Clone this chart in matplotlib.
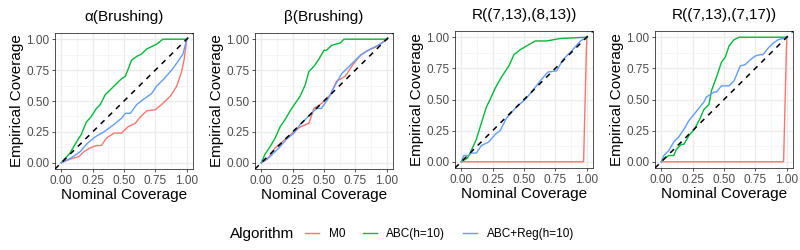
import numpy as np
import matplotlib.pyplot as plt
from matplotlib.lines import Line2D
from matplotlib.ticker import MultipleLocator

plt.rcParams['font.family'] = ['Liberation Sans', 'DejaVu Sans']

# ---- данные ----
titles = ['\u03b1(Brushing)', '\u03b2(Brushing)', 'R((7,13),(8,13))', 'R((7,13),(7,17))']
algos = ['M0', 'ABC(h=10)', 'ABC+Reg(h=10)']
colors = ['#F8766D', '#00BA38', '#619CFF']

# панель 1: alpha
a_m0_x = [0, 0.07, 0.14, 0.18, 0.23, 0.28, 0.32, 0.36, 0.42, 0.48, 0.53, 0.59, 0.63, 0.68, 0.75, 0.81, 0.87, 0.92, 0.96, 0.98, 1.0]
a_m0_y = [0, 0.03, 0.05, 0.09, 0.12, 0.14, 0.14, 0.20, 0.24, 0.24, 0.29, 0.32, 0.37, 0.42, 0.43, 0.48, 0.54, 0.62, 0.74, 0.84, 1.0]
a_abc_x = [0, 0.07, 0.14, 0.16, 0.20, 0.24, 0.28, 0.31, 0.35, 0.42, 0.48, 0.51, 0.53, 0.56, 0.60, 0.64, 0.68, 0.76, 0.81, 1.0]
a_abc_y = [0, 0.08, 0.20, 0.23, 0.33, 0.375, 0.44, 0.47, 0.55, 0.62, 0.68, 0.70, 0.75, 0.83, 0.86, 0.88, 0.92, 0.96, 1.0, 1.0]
a_reg_x = [0, 0.08, 0.15, 0.20, 0.27, 0.34, 0.42, 0.48, 0.51, 0.55, 0.60, 0.65, 0.72, 0.76, 0.81, 0.88, 0.93, 0.97, 1.0]
a_reg_y = [0, 0.04, 0.09, 0.15, 0.21, 0.25, 0.31, 0.36, 0.40, 0.40, 0.47, 0.51, 0.56, 0.62, 0.67, 0.75, 0.82, 0.88, 1.0]

# панель 2: beta
b_m0_x = [0, 0.05, 0.11, 0.19, 0.26, 0.31, 0.38, 0.42, 0.48, 0.55, 0.60, 0.67, 0.72, 0.79, 0.85, 0.92, 1.0]
b_m0_y = [0, 0.03, 0.12, 0.19, 0.25, 0.29, 0.32, 0.44, 0.48, 0.55, 0.66, 0.70, 0.78, 0.87, 0.91, 0.94, 1.0]
b_abc_x = [0, 0.03, 0.07, 0.11, 0.15, 0.19, 0.23, 0.27, 0.31, 0.35, 0.38, 0.42, 0.46, 0.50, 0.52, 0.56, 0.63, 0.66, 1.0]
b_abc_y = [0, 0.07, 0.13, 0.20, 0.29, 0.35, 0.42, 0.48, 0.54, 0.63, 0.74, 0.78, 0.84, 0.91, 0.91, 0.95, 0.97, 1.0, 1.0]
b_reg_x = [0, 0.07, 0.14, 0.20, 0.26, 0.31, 0.39, 0.44, 0.48, 0.54, 0.59, 0.64, 0.71, 0.79, 0.87, 0.95, 1.0]
b_reg_y = [0, 0.05, 0.12, 0.19, 0.24, 0.31, 0.39, 0.44, 0.44, 0.53, 0.63, 0.72, 0.79, 0.87, 0.92, 0.96, 1.0]

# панель 3: R((7,13),(8,13))
r1_m0_x = [0, 0.975, 1.0]
r1_m0_y = [0, 0, 1.0]
r1_abc_x = [0, 0.05, 0.08, 0.12, 0.16, 0.20, 0.23, 0.27, 0.32, 0.38, 0.42, 0.47, 0.52, 0.59, 0.68, 0.79, 1.0]
r1_abc_y = [0, 0.03, 0.09, 0.18, 0.31, 0.44, 0.50, 0.59, 0.68, 0.77, 0.86, 0.90, 0.93, 0.97, 0.97, 0.99, 1.0]
r1_reg_x = [0, 0.02, 0.06, 0.08, 0.12, 0.16, 0.22, 0.27, 0.31, 0.36, 0.44, 0.51, 0.56, 0.63, 0.69, 0.76, 0.81, 0.88, 0.95, 1.0]
r1_reg_y = [0, 0.05, 0.05, 0.07, 0.07, 0.13, 0.16, 0.22, 0.25, 0.35, 0.44, 0.50, 0.56, 0.65, 0.72, 0.73, 0.82, 0.89, 0.97, 1.0]

# панель 4: R((7,13),(7,17))
r2_m0_x = [0, 0.975, 1.0]
r2_m0_y = [0, 0, 1.0]
r2_abc_x = [0, 0.03, 0.06, 0.10, 0.12, 0.16, 0.18, 0.22, 0.27, 0.31, 0.34, 0.38, 0.40, 0.44, 0.48, 0.51, 0.54, 0.58, 0.62, 1.0]
r2_abc_y = [0, 0.03, 0.05, 0.05, 0.10, 0.14, 0.14, 0.21, 0.27, 0.35, 0.42, 0.46, 0.57, 0.68, 0.80, 0.84, 0.93, 0.98, 1.0, 1.0]
r2_reg_x = [0, 0.02, 0.06, 0.10, 0.14, 0.18, 0.22, 0.26, 0.30, 0.34, 0.36, 0.42, 0.44, 0.48, 0.54, 0.58, 0.63, 0.67, 0.71, 0.75, 0.79, 0.81, 0.85, 0.89, 0.93, 0.97, 1.0]
r2_reg_y = [0, 0.05, 0.09, 0.16, 0.20, 0.26, 0.33, 0.38, 0.43, 0.48, 0.52, 0.56, 0.56, 0.61, 0.61, 0.65, 0.77, 0.78, 0.82, 0.85, 0.86, 0.86, 0.91, 0.95, 0.98, 0.99, 1.0]

panels = [
    [(a_m0_x, a_m0_y), (a_abc_x, a_abc_y), (a_reg_x, a_reg_y)],
    [(b_m0_x, b_m0_y), (b_abc_x, b_abc_y), (b_reg_x, b_reg_y)],
    [(r1_m0_x, r1_m0_y), (r1_abc_x, r1_abc_y), (r1_reg_x, r1_reg_y)],
    [(r2_m0_x, r2_m0_y), (r2_abc_x, r2_abc_y), (r2_reg_x, r2_reg_y)],
]

fig = plt.figure(figsize=(8, 2.5), dpi=100)

# положения панелей в пикселях (лево, верх, право, низ)
boxes = [(55, 33, 193, 169), (255, 33, 393, 169), (455, 31, 593, 168), (655, 31, 793, 168)]

for i, (title, series) in enumerate(zip(titles, panels)):
    l, t, r, b = boxes[i]
    ax = fig.add_axes([l / 800, 1 - b / 250, (r - l) / 800, (b - t) / 250])
    lim = (-0.05, 1.05)
    ax.set_xlim(lim)
    ax.set_ylim(lim)
    ax.xaxis.set_major_locator(MultipleLocator(0.25))
    ax.yaxis.set_major_locator(MultipleLocator(0.25))
    ax.xaxis.set_minor_locator(MultipleLocator(0.125))
    ax.yaxis.set_minor_locator(MultipleLocator(0.125))
    ax.xaxis.set_major_formatter(plt.FuncFormatter(lambda v, p: f'{v:.2f}'))
    ax.yaxis.set_major_formatter(plt.FuncFormatter(lambda v, p: f'{v:.2f}'))
    ax.grid(True, which='major', color='#EBEBEB', linewidth=1.0)
    ax.grid(True, which='minor', color='#F2F2F2', linewidth=0.5)
    ax.set_axisbelow(True)
    ax.tick_params(which='minor', length=0)
    ax.tick_params(which='major', length=2.5, width=0.6, color='#333333',
                   labelsize=8.5, labelcolor='#4D4D4D', pad=1.5)
    for s in ax.spines.values():
        s.set_color('#333333')
        s.set_linewidth(0.6)

    ax.plot(lim, lim, color='black', linestyle=(0, (3.5, 3.5)), linewidth=1.1, zorder=3)
    for (x, y), c in zip(series, colors):
        ax.plot(x, y, color=c, linewidth=1.0, zorder=2)

    ax.set_title(title, fontsize=11, pad=9)
    ax.set_xlabel('Nominal Coverage', fontsize=11, labelpad=1)
    ax.set_ylabel('Empirical Coverage', fontsize=11, labelpad=2)

# легенда снизу
fig.text(230 / 800, 1 - 234 / 250, 'Algorithm', fontsize=11, va='center', ha='left')
handles = [Line2D([], [], color=c, linewidth=1.0) for c in colors]
fig.legend(handles, algos, loc='center left', bbox_to_anchor=(305 / 800, 1 - 234 / 250),
           ncol=3, frameon=False, fontsize=8.5, handlelength=1.2, handletextpad=0.8,
           columnspacing=1.5, borderpad=0, borderaxespad=0)

fig.savefig('out.png', dpi=100)
